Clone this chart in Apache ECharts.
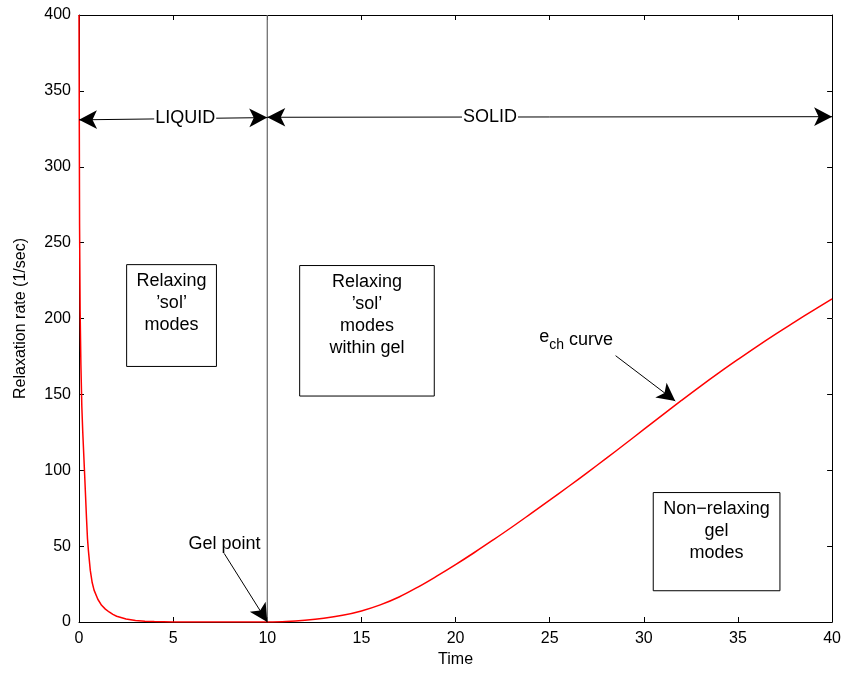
<!DOCTYPE html>
<html>
<head>
<meta charset="utf-8">
<script src="https://cdn.jsdelivr.net/npm/echarts@6/dist/echarts.min.js"></script>
<style>
  html, body { margin: 0; padding: 0; background: #fff; }
  #chart { width: 844px; height: 673px; }
</style>
</head>
<body>
<div id="chart"></div>
<script>
// Relaxation rate against time, through the gel point at t = 10
const solTime = [0, 0.03, 0.06, 0.1, 0.15, 0.2, 0.3, 0.4, 0.45, 0.5, 0.6, 0.7, 0.8, 1.0, 1.2, 1.4, 1.6, 1.8, 2.0, 2.5, 3.0, 3.5, 4.0, 5.0, 6.0, 8.0, 10];
const solRate = [400, 262, 205, 170, 142, 125, 97, 68, 55, 47, 34, 26, 21, 15, 11, 8.5, 6.6, 5, 3.8, 2, 1, 0.5, 0.25, 0.05, 0, 0, 0];

const gelTime = [10, 11, 12, 13, 14, 15, 16, 17, 18, 19, 20, 21, 22, 23, 24, 25, 26, 27, 28, 29, 30, 31, 32, 33, 34, 35, 36, 37, 38, 39, 40];
const gelRate = [0, 0.3, 1.1, 2.4, 4.4, 7.3, 11.3, 16.5, 23, 30.2, 37.8, 45.8, 54.1, 62.6, 71.4, 80.3, 89.3, 98.5, 107.8, 117.3, 126.9, 136.5, 146,
  155.3, 164.3, 173, 181.5, 189.7, 197.6, 205.4, 213];

const gelPoint = 10;
const xRange = [0, 40];
const yRange = [0, 400];
const xStep = 5;
const yStep = 50;

// Text annotations: [label, time, rate]
const regionLabels = [
  ['LIQUID', 5.64, 332],
  ['SOLID', 21.83, 332.6],
  ['Gel point', 7.73, 51.3],
  ['{e|e}{s|ch} curve', 26.4, 186]
];

// Framed region notes: [text, t0, r0, t1, r1]
const regionBoxes = [
  ['Relaxing\n’sol’\nmodes', 2.53, 168.4, 7.3, 235.5],
  ['Relaxing\n’sol’\nmodes\nwithin gel', 11.72, 148.9, 18.87, 234.9],
  ['Non−relaxing\ngel\nmodes', 30.5, 20.6, 37.23, 85.3]
];

// Arrows: [t0, r0, t1, r1, heads]
const arrows = [
  [0, 330.9, 10, 332.4, 'both'],
  [10, 332.6, 40, 333.0, 'both'],
  [7.7, 45.4, 10, 0, 'end'],
  [28.5, 175.5, 31.67, 145.6, 'end']
];

const FONT = 'Liberation Sans, Arial, Helvetica, sans-serif';
const chart = echarts.init(document.getElementById('chart'), null, { renderer: 'canvas' });

const solCurve = solTime.map((t, i) => [t, solRate[i]]);
const gelCurve = gelTime.map((t, i) => [t, gelRate[i]]);

const axisCommon = {
  type: 'value',
  axisLine: { show: true, onZero: false, lineStyle: { color: '#000', width: 1 } },
  axisTick: { show: true, inside: true, length: 5, lineStyle: { color: '#000', width: 1 } },
  splitLine: { show: false }
};

const curveStyle = { color: '#ff0000', width: 1.5 };

const option = {
  backgroundColor: '#fff',
  animation: false,
  textStyle: { fontFamily: FONT },
  grid: { left: 79, right: 10, top: 15, bottom: 50, containLabel: false },
  xAxis: [
    Object.assign({}, axisCommon, {
      min: xRange[0], max: xRange[1], interval: xStep, position: 'bottom',
      name: 'Time', nameLocation: 'middle', nameGap: 30,
      nameTextStyle: { fontSize: 16, color: '#000', fontFamily: FONT },
      axisLabel: { fontSize: 16, color: '#000', margin: 9, fontFamily: FONT }
    }),
    Object.assign({}, axisCommon, {
      min: xRange[0], max: xRange[1], interval: xStep, position: 'top',
      axisLabel: { show: false }
    })
  ],
  yAxis: [
    Object.assign({}, axisCommon, {
      min: yRange[0], max: yRange[1], interval: yStep, position: 'left',
      name: 'Relaxation rate (1/sec)', nameLocation: 'middle', nameGap: 50,
      nameTextStyle: { fontSize: 16, color: '#000', fontFamily: FONT },
      axisLabel: { fontSize: 16, color: '#000', margin: 8, fontFamily: FONT }
    }),
    Object.assign({}, axisCommon, {
      min: yRange[0], max: yRange[1], interval: yStep, position: 'right',
      axisLabel: { show: false }
    })
  ],
  series: [
    {
      // gel point divider
      type: 'line',
      data: [[gelPoint, yRange[0]], [gelPoint, yRange[1]]],
      showSymbol: false,
      silent: true,
      lineStyle: { color: '#666', width: 1.2 },
      z: 2,
      markArea: {
        silent: true,
        itemStyle: { color: 'rgba(0,0,0,0)', borderColor: '#000', borderWidth: 1 },
        label: {
          show: true, position: 'insideTop', distance: 6,
          fontSize: 18, lineHeight: 22, color: '#000', fontFamily: FONT, align: 'center'
        },
        data: regionBoxes.map(b => [{ name: b[0], coord: [b[1], b[2]] }, { coord: [b[3], b[4]] }])
      },
      markLine: {
        silent: true,
        precision: 4,
        lineStyle: { color: '#000', width: 1, type: 'solid' },
        label: { show: false },
        emphasis: { disabled: true },
        data: arrows.map(a => [
          { coord: [a[0], a[1]], symbol: a[4] === 'both' ? 'arrow' : 'none', symbolSize: [14, 18] },
          { coord: [a[2], a[3]], symbol: 'arrow', symbolSize: [14, 18] }
        ])
      }
    },
    {
      name: 'sol',
      type: 'line',
      data: solCurve,
      showSymbol: false,
      clip: true,
      lineStyle: curveStyle,
      z: 3
    },
    {
      name: 'gel',
      type: 'line',
      data: gelCurve,
      showSymbol: false,
      smooth: 0.4,
      clip: true,
      lineStyle: curveStyle,
      z: 3
    },
    {
      // annotation texts
      type: 'scatter',
      data: regionLabels.map(l => ({ value: [l[1], l[2]], name: l[0] })),
      symbolSize: 0,
      silent: true,
      itemStyle: { opacity: 1 },
      z: 5,
      label: {
        show: true,
        position: 'inside',
        formatter: '{b}',
        fontSize: 18,
        color: '#000',
        fontFamily: FONT,
        backgroundColor: '#fff',
        padding: [0, 1],
        rich: {
          e: { fontSize: 18, color: '#000', fontFamily: FONT, verticalAlign: 'top' },
          s: { fontSize: 14, color: '#000', fontFamily: FONT, padding: [10, 0, 0, 0] }
        }
      }
    }
  ]
};

chart.setOption(option);
</script>
</body>
</html>
